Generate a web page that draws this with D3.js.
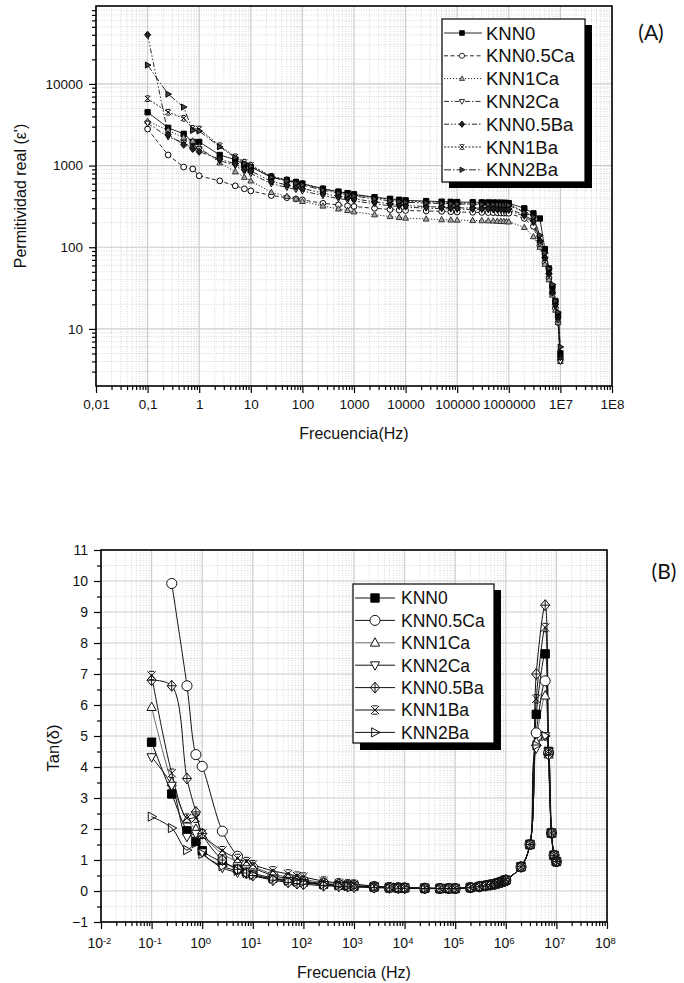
<!DOCTYPE html>
<html>
<head>
<meta charset="utf-8">
<script src="https://cdn.jsdelivr.net/npm/d3@7"></script>
<style>
body { margin: 0; background: #fff; }
text { font-family: "Liberation Sans", Arial, sans-serif; fill: #111; }
</style>
</head>
<body>
<div id="chart"></div>
<script>
// ---- data (A) permitividad real vs frecuencia ----
var seriesNames = ["KNN0", "KNN0.5Ca", "KNN1Ca", "KNN2Ca", "KNN0.5Ba", "KNN1Ba", "KNN2Ba"];

var freqA = [0.1, 0.25, 0.5, 0.75, 1, 2.5, 5, 7.5, 10, 25, 50, 75, 100, 250, 500, 750, 1000,
    2500, 5000, 7500, 1e4, 2.5e4, 5e4, 7.5e4, 1e5, 2e5, 3e5, 4e5, 5e5, 6e5, 7e5, 8e5, 9e5, 1e6,
    2e6, 3e6, 4e6, 5e6, 6e6, 7e6, 8e6, 9e6, 1e7];

var epsKNN0    = [4500, 2900, 2450, 1950, 1950, 1350, 1180, 1020, 960, 720, 660, 625, 600, 520, 480, 460, 445,
    410, 392, 382, 375, 368, 362, 360, 358, 356, 355, 354, 353, 352, 351, 350, 349, 347,
    300, 260, 225, 95, 55, 33, 22, 15, 5];
var epsKNN05Ca = [2800, 1350, 960, 910, 750, 650, 565, 520, 490, 430, 405, 390, 380, 345, 330, 322, 316,
    300, 290, 285, 282, 278, 275, 272, 270, 268, 267, 266, 265, 264, 263, 262, 262, 261,
    225, 180, 105, 65, 42, 27, 18, 12, 4.2];
var epsKNN1Ca  = [3500, 2700, 2200, 2000, 1700, 1080, 840, 720, 650, 470, 420, 390, 365, 320, 295, 282, 272,
    250, 238, 232, 228, 222, 218, 216, 215, 213, 212, 211, 210, 209, 208, 207, 206, 205,
    175, 135, 100, 62, 40, 26, 17, 12, 4];
var epsKNN2Ca  = [3300, 2250, 1900, 1650, 1600, 1150, 1000, 850, 800, 600, 540, 510, 490, 430, 395, 380, 370,
    340, 322, 315, 310, 302, 297, 294, 292, 290, 289, 288, 287, 286, 285, 284, 283, 282,
    240, 200, 110, 70, 45, 28, 19, 13, 4];
var epsKNN05Ba = [40000, 2400, 1800, 1600, 1480, 1200, 1050, 900, 860, 640, 580, 550, 525, 460, 420, 405, 392,
    360, 340, 332, 325, 315, 310, 306, 304, 302, 301, 300, 299, 298, 297, 296, 296, 295,
    250, 210, 120, 75, 48, 28, 20, 14, 4.5];
var epsKNN1Ba  = [6600, 4500, 3800, 2850, 2800, 1750, 1280, 1100, 1010, 740, 670, 630, 600, 520, 475, 455, 440,
    405, 385, 375, 368, 360, 354, 351, 349, 347, 346, 345, 344, 343, 342, 341, 340, 339,
    270, 240, 130, 80, 50, 30, 20, 14, 5];
var epsKNN2Ba  = [17000, 7500, 5200, 2700, 2650, 1700, 1250, 1060, 980, 720, 650, 610, 580, 500, 460, 440, 425,
    390, 370, 362, 355, 348, 343, 340, 338, 336, 335, 334, 333, 332, 331, 330, 329, 328,
    265, 235, 140, 85, 55, 35, 22, 16, 6];

var xTicksA = [0.01, 0.1, 1, 10, 100, 1000, 1e4, 1e5, 1e6, 1e7, 1e8];
var xLabelsA = ["0,01", "0,1", "1", "10", "100", "1000", "10000", "100000", "1000000", "1E7", "1E8"];
var yTicksA = [10, 100, 1000, 10000];
var yLabelsA = ["10", "100", "1000", "10000"];

// ---- data (B) tan delta vs frecuencia ----
var freqB = [0.1, 0.25, 0.5, 0.75, 1, 2.5, 5, 7.5, 10, 25, 50, 75, 100, 250, 500, 750, 1000,
    2500, 5000, 7500, 1e4, 2.5e4, 5e4, 7.5e4, 1e5, 2e5, 3e5, 4e5, 5e5, 6e5, 7e5, 8e5, 9e5, 1e6,
    2e6, 3e6, 4e6, 6e6, 7e6, 8e6, 9e6, 1e7];

var tanKNN0    = [4.8, 3.13, 1.94, 1.6, 1.3, 0.93, 0.72, 0.62, 0.57, 0.42, 0.35, 0.31, 0.29, 0.22, 0.19, 0.17, 0.16,
    0.13, 0.11, 0.1, 0.1, 0.09, 0.08, 0.08, 0.08, 0.11, 0.14, 0.17, 0.2, 0.22, 0.25, 0.28, 0.31, 0.35,
    0.78, 1.5, 5.7, 7.65, 4.5, 1.87, 1.15, 0.95];
var tanKNN05Ca = [null, 9.92, 6.62, 4.4, 4.02, 1.93, 1.12, 0.85, 0.75, 0.5, 0.4, 0.35, 0.32, 0.24, 0.2, 0.18, 0.17,
    0.13, 0.11, 0.1, 0.1, 0.09, 0.08, 0.08, 0.08, 0.11, 0.14, 0.17, 0.2, 0.22, 0.25, 0.28, 0.31, 0.35,
    0.78, 1.5, 5.1, 6.78, 4.45, 1.87, 1.15, 0.95];
var tanKNN1Ca  = [5.93, 3.5, 2.3, 2.0, 1.8, 1.2, 0.95, 0.85, 0.78, 0.55, 0.45, 0.4, 0.37, 0.28, 0.24, 0.21, 0.2,
    0.15, 0.12, 0.11, 0.1, 0.09, 0.08, 0.08, 0.08, 0.11, 0.14, 0.17, 0.2, 0.22, 0.25, 0.28, 0.31, 0.35,
    0.78, 1.5, 4.8, 6.3, 4.4, 1.87, 1.15, 0.95];
var tanKNN2Ca  = [4.32, 3.4, 1.75, 1.85, 1.25, 0.75, 0.6, 0.55, 0.5, 0.38, 0.32, 0.28, 0.26, 0.2, 0.17, 0.16, 0.15,
    0.12, 0.1, 0.1, 0.09, 0.08, 0.08, 0.08, 0.08, 0.11, 0.14, 0.17, 0.2, 0.22, 0.25, 0.28, 0.31, 0.35,
    0.78, 1.5, 4.6, 5.0, 4.5, 1.87, 1.15, 0.95];
var tanKNN05Ba = [6.8, 6.62, 3.63, 2.55, 1.85, 1.0, 0.7, 0.58, 0.5, 0.35, 0.28, 0.24, 0.22, 0.17, 0.15, 0.14, 0.13,
    0.11, 0.1, 0.09, 0.09, 0.08, 0.08, 0.08, 0.08, 0.11, 0.14, 0.17, 0.2, 0.22, 0.25, 0.28, 0.31, 0.35,
    0.78, 1.5, 7.0, 9.22, 4.4, 1.87, 1.15, 0.95];
var tanKNN1Ba  = [6.95, 3.8, 2.35, 2.35, 1.85, 1.3, 1.05, 0.95, 0.85, 0.65, 0.55, 0.48, 0.45, 0.32, 0.26, 0.23, 0.22,
    0.16, 0.13, 0.12, 0.11, 0.1, 0.09, 0.09, 0.09, 0.12, 0.15, 0.18, 0.21, 0.23, 0.26, 0.29, 0.32, 0.36,
    0.78, 1.5, 6.2, 8.5, 4.5, 1.87, 1.15, 0.95];
var tanKNN2Ba  = [2.4, 2.03, 1.32, 1.55, 1.2, 0.8, 0.65, 0.58, 0.52, 0.4, 0.33, 0.3, 0.28, 0.21, 0.18, 0.16, 0.15,
    0.12, 0.1, 0.1, 0.09, 0.08, 0.08, 0.08, 0.08, 0.11, 0.14, 0.17, 0.2, 0.22, 0.25, 0.28, 0.31, 0.35,
    0.78, 1.5, 4.7, 5.0, 4.5, 1.87, 1.15, 0.95];

var xTicksB = [0.01, 0.1, 1, 10, 100, 1000, 1e4, 1e5, 1e6, 1e7, 1e8];
var xExpB = ["-2", "-1", "0", "1", "2", "3", "4", "5", "6", "7", "8"];
var yTicksB = [-1, 0, 1, 2, 3, 4, 5, 6, 7, 8, 9, 10, 11];

(function () {
    var width = 684, height = 983;

    var svg = d3.select("#chart").append("svg")
        .attr("width", width)
        .attr("height", height);

    // plot boxes
    var boxA = {left: 96, right: 612, top: 6, bottom: 386};
    var boxB = {left: 101, right: 607, top: 550, bottom: 922};

    var xA = d3.scaleLog().domain([0.01, 1e8]).range([boxA.left, boxA.right]);
    var yA = d3.scaleLog().domain([2, 90000]).range([boxA.bottom, boxA.top]);
    var xB = d3.scaleLog().domain([0.01, 1e8]).range([boxB.left, boxB.right]);
    var yB = d3.scaleLinear().domain([-1, 11]).range([boxB.bottom, boxB.top]);

    // minor log ticks 2..9 per decade
    function logMinors(lo, hi) {
        var out = [];
        for (var e = Math.floor(Math.log10(lo)); e <= Math.ceil(Math.log10(hi)); e++) {
            for (var m = 2; m <= 9; m++) {
                var v = m * Math.pow(10, e);
                if (v > lo * 1.0001 && v < hi * 0.9999) out.push(v);
            }
        }
        return out;
    }

    function drawGrid(g, x, y, box, xMaj, xMin, yMaj, yMin) {
        var grid = g.append("g").attr("class", "grid");
        grid.selectAll(".gx-min").data(xMin).enter().append("line")
            .attr("x1", d => x(d)).attr("x2", d => x(d))
            .attr("y1", box.top).attr("y2", box.bottom)
            .attr("stroke", "#c4c4c4").attr("stroke-width", 0.7)
            .attr("stroke-dasharray", "1,1.5");
        grid.selectAll(".gy-min").data(yMin).enter().append("line")
            .attr("x1", box.left).attr("x2", box.right)
            .attr("y1", d => y(d)).attr("y2", d => y(d))
            .attr("stroke", "#c4c4c4").attr("stroke-width", 0.7)
            .attr("stroke-dasharray", "1,1.5");
        grid.selectAll(".gx-maj").data(xMaj).enter().append("line")
            .attr("x1", d => x(d)).attr("x2", d => x(d))
            .attr("y1", box.top).attr("y2", box.bottom)
            .attr("stroke", "#cccccc").attr("stroke-width", 1.2);
        grid.selectAll(".gy-maj").data(yMaj).enter().append("line")
            .attr("x1", box.left).attr("x2", box.right)
            .attr("y1", d => y(d)).attr("y2", d => y(d))
            .attr("stroke", "#cccccc").attr("stroke-width", 1.2);
    }

    // markers
    function symbolPath(type, size) {
        var s = Math.sqrt(size) / 2;
        switch (type) {
            case "square": return d3.symbol().type(d3.symbolSquare).size(size)();
            case "circle": return d3.symbol().type(d3.symbolCircle).size(size)();
            case "up": return "M0," + (-s * 1.2) + "L" + (s * 1.1) + "," + (s * 0.8) + "L" + (-s * 1.1) + "," + (s * 0.8) + "Z";
            case "down": return "M0," + (s * 1.2) + "L" + (s * 1.1) + "," + (-s * 0.8) + "L" + (-s * 1.1) + "," + (-s * 0.8) + "Z";
            case "right": return "M" + (s * 1.2) + ",0L" + (-s * 0.8) + "," + (s * 1.1) + "L" + (-s * 0.8) + "," + (-s * 1.1) + "Z";
            case "diamond": return "M0," + (-s * 1.3) + "L" + (s * 1.1) + ",0L0," + (s * 1.3) + "L" + (-s * 1.1) + ",0Z";
            case "diamondplus": return "M0," + (-s * 1.3) + "L" + (s * 1.1) + ",0L0," + (s * 1.3) + "L" + (-s * 1.1) + ",0Z" +
                "M0," + (-s * 1.3) + "L0," + (s * 1.3) + "M" + (-s * 1.1) + ",0L" + (s * 1.1) + ",0";
            case "xstar": return "M" + (-s) + "," + (-s) + "L" + s + "," + s + "M" + s + "," + (-s) + "L" + (-s) + "," + s +
                "M" + (-s * 0.6) + "," + (-s) + "L" + (s * 0.6) + "," + (-s) + "M" + (-s * 0.6) + "," + s + "L" + (s * 0.6) + "," + s +
                "M0," + (-s * 0.3) + "L0," + (s * 0.3);
        }
    }

    // ---------------- chart A ----------------
    var gA = svg.append("g");
    drawGrid(gA, xA, yA, boxA, xTicksA, logMinors(0.01, 1e8), yTicksA, logMinors(2, 90000));

    svg.append("clipPath").attr("id", "clipA").append("rect")
        .attr("x", boxA.left).attr("y", boxA.top)
        .attr("width", boxA.right - boxA.left).attr("height", boxA.bottom - boxA.top);

    var styleA = [
        {dash: null, sym: "square", size: 28, fill: "#000", stroke: "#000"},
        {dash: "4,2.5", sym: "circle", size: 26, fill: "#fff", stroke: "#000"},
        {dash: "1.2,1.8", sym: "up", size: 28, fill: "#aaa", stroke: "#333"},
        {dash: "5,2,1.5,2", sym: "down", size: 28, fill: "#fff", stroke: "#000"},
        {dash: "5,2,1.5,2,1.5,2", sym: "diamond", size: 30, fill: "#222", stroke: "#000"},
        {dash: "2,1.5", sym: "xstar", size: 32, fill: "none", stroke: "#000"},
        {dash: "7,2,1.5,2", sym: "right", size: 30, fill: "#444", stroke: "#000"}
    ];
    var dataA = [epsKNN0, epsKNN05Ca, epsKNN1Ca, epsKNN2Ca, epsKNN05Ba, epsKNN1Ba, epsKNN2Ba];

    var lineA = d3.line()
        .defined(d => d.v != null)
        .x(d => xA(d.f))
        .y(d => yA(d.v));

    var plotA = gA.append("g").attr("clip-path", "url(#clipA)");
    dataA.forEach(function (vals, i) {
        var pts = freqA.map(function (f, j) { return {f: f, v: vals[j]}; });
        plotA.append("path")
            .datum(pts)
            .attr("d", lineA)
            .attr("fill", "none")
            .attr("stroke", "#111")
            .attr("stroke-width", 0.9)
            .attr("stroke-dasharray", styleA[i].dash);
    });
    dataA.forEach(function (vals, i) {
        var st = styleA[i];
        var pts = freqA.map(function (f, j) { return {f: f, v: vals[j]}; }).filter(d => d.v != null);
        plotA.selectAll(".mA" + i).data(pts).enter().append("path")
            .attr("transform", d => "translate(" + xA(d.f) + "," + yA(d.v) + ")")
            .attr("d", symbolPath(st.sym, st.size))
            .attr("fill", st.fill)
            .attr("stroke", st.stroke)
            .attr("stroke-width", 1);
    });

    // axes A
    var axA = gA.append("g").attr("transform", "translate(0," + boxA.bottom + ")")
        .call(d3.axisBottom(xA).tickValues(logMinors(0.01, 1e8)).tickSize(4).tickFormat(""));
    axA.select(".domain").remove();
    var axA2 = gA.append("g").attr("transform", "translate(0," + boxA.bottom + ")")
        .call(d3.axisBottom(xA).tickValues(xTicksA).tickSize(7).tickPadding(6)
            .tickFormat((d, i) => xLabelsA[i]));
    axA2.select(".domain").remove();
    axA2.selectAll("text").attr("font-size", 13.5).attr("font-family", "Liberation Sans, Arial, sans-serif").attr("fill", "#111");

    var ayA = gA.append("g").attr("transform", "translate(" + boxA.left + ",0)")
        .call(d3.axisLeft(yA).tickValues(logMinors(2, 90000)).tickSize(4).tickFormat(""));
    ayA.select(".domain").remove();
    var ayA2 = gA.append("g").attr("transform", "translate(" + boxA.left + ",0)")
        .call(d3.axisLeft(yA).tickValues(yTicksA).tickSize(7).tickPadding(6)
            .tickFormat((d, i) => yLabelsA[i]));
    ayA2.select(".domain").remove();
    ayA2.selectAll("text").attr("font-size", 13.5).attr("font-family", "Liberation Sans, Arial, sans-serif").attr("fill", "#111");
    gA.selectAll(".tick line").attr("stroke", "#000").attr("stroke-width", 1.2);

    gA.append("rect")
        .attr("x", boxA.left).attr("y", boxA.top)
        .attr("width", boxA.right - boxA.left).attr("height", boxA.bottom - boxA.top)
        .attr("fill", "none").attr("stroke", "#000").attr("stroke-width", 1.6);

    gA.append("text")
        .attr("x", (boxA.left + boxA.right) / 2).attr("y", 439)
        .attr("text-anchor", "middle").attr("font-size", 16)
        .text("Frecuencia(Hz)");
    gA.append("text")
        .attr("transform", "translate(26," + ((boxA.top + boxA.bottom) / 2) + ") rotate(-90)")
        .attr("text-anchor", "middle").attr("font-size", 16)
        .text("Permitividad real (\u03b5')");
    svg.append("text")
        .attr("x", 651).attr("y", 40)
        .attr("text-anchor", "middle").attr("font-size", 21)
        .style("font-family", "Lato, 'Open Sans', sans-serif")
        .text("(A)");

    // legend A
    var legA = gA.append("g");
    legA.append("rect").attr("x", 449).attr("y", 25).attr("width", 143).attr("height", 163).attr("fill", "#000");
    legA.append("rect").attr("x", 442).attr("y", 19).attr("width", 143).attr("height", 163)
        .attr("fill", "#fff").attr("stroke", "#000").attr("stroke-width", 1.2);
    seriesNames.forEach(function (name, i) {
        var yy = 33 + i * 22.8;
        var st = styleA[i];
        legA.append("line").attr("x1", 444).attr("x2", 482).attr("y1", yy).attr("y2", yy)
            .attr("stroke", "#111").attr("stroke-width", 0.9).attr("stroke-dasharray", st.dash);
        legA.append("path").attr("transform", "translate(462," + yy + ")")
            .attr("d", symbolPath(st.sym, st.size * 0.8))
            .attr("fill", st.fill).attr("stroke", st.stroke).attr("stroke-width", 0.8);
        legA.append("text").attr("x", 486).attr("y", yy).attr("dy", "0.36em")
            .attr("font-size", 18.5).text(name);
    });

    // ---------------- chart B ----------------
    var gB = svg.append("g");
    var yMinB = d3.range(-0.5, 11, 1);
    drawGrid(gB, xB, yB, boxB, xTicksB, logMinors(0.01, 1e8), yTicksB, yMinB);

    svg.append("clipPath").attr("id", "clipB").append("rect")
        .attr("x", boxB.left).attr("y", boxB.top)
        .attr("width", boxB.right - boxB.left).attr("height", boxB.bottom - boxB.top);

    var styleB = [
        {sym: "square", size: 70, fill: "#000", stroke: "#000", line: "#111"},
        {sym: "circle", size: 80, fill: "#fff", stroke: "#111", line: "#111"},
        {sym: "up", size: 70, fill: "#fff", stroke: "#111", line: "#666"},
        {sym: "down", size: 70, fill: "#fff", stroke: "#111", line: "#111"},
        {sym: "diamondplus", size: 70, fill: "#fff", stroke: "#111", line: "#111"},
        {sym: "xstar", size: 70, fill: "none", stroke: "#111", line: "#111"},
        {sym: "right", size: 70, fill: "none", stroke: "#111", line: "#111"}
    ];
    var dataB = [tanKNN0, tanKNN05Ca, tanKNN1Ca, tanKNN2Ca, tanKNN05Ba, tanKNN1Ba, tanKNN2Ba];

    var lineB = d3.line()
        .defined(d => d.v != null)
        .curve(d3.curveCatmullRom.alpha(0.5))
        .x(d => xB(d.f))
        .y(d => yB(d.v));

    var plotB = gB.append("g").attr("clip-path", "url(#clipB)");
    dataB.forEach(function (vals, i) {
        var pts = freqB.map(function (f, j) { return {f: f, v: vals[j]}; }).filter(d => d.v != null);
        plotB.append("path")
            .datum(pts)
            .attr("d", lineB)
            .attr("fill", "none")
            .attr("stroke", styleB[i].line)
            .attr("stroke-width", 1);
    });
    dataB.forEach(function (vals, i) {
        var st = styleB[i];
        var pts = freqB.map(function (f, j) { return {f: f, v: vals[j]}; }).filter(d => d.v != null);
        plotB.selectAll(".mB" + i).data(pts).enter().append("path")
            .attr("transform", d => "translate(" + xB(d.f) + "," + yB(d.v) + ")")
            .attr("d", symbolPath(st.sym, st.size))
            .attr("fill", st.fill)
            .attr("stroke", st.stroke)
            .attr("stroke-width", 1);
    });

    // axes B
    var axB = gB.append("g").attr("transform", "translate(0," + boxB.bottom + ")")
        .call(d3.axisBottom(xB).tickValues(logMinors(0.01, 1e8)).tickSize(4).tickFormat(""));
    axB.select(".domain").remove();
    var axB2 = gB.append("g").attr("transform", "translate(0," + boxB.bottom + ")")
        .call(d3.axisBottom(xB).tickValues(xTicksB).tickSize(7).tickPadding(9).tickFormat(""));
    axB2.select(".domain").remove();
    axB2.selectAll(".tick text").each(function (d, i) {
        var t = d3.select(this)
            .attr("font-size", 14).attr("fill", "#111")
            .attr("font-family", "Liberation Sans, Arial, sans-serif")
            .attr("dx", "-0.15em");
        t.text("10");
        t.append("tspan").attr("dy", "-0.45em").attr("font-size", 9.5).text(xExpB[i]);
    });

    var ayB = gB.append("g").attr("transform", "translate(" + boxB.left + ",0)")
        .call(d3.axisLeft(yB).tickValues(yMinB).tickSize(4).tickFormat(""));
    ayB.select(".domain").remove();
    var ayB2 = gB.append("g").attr("transform", "translate(" + boxB.left + ",0)")
        .call(d3.axisLeft(yB).tickValues(yTicksB).tickSize(7).tickPadding(6).tickFormat(d3.format("d")));
    ayB2.select(".domain").remove();
    ayB2.selectAll("text").attr("font-size", 14).attr("font-family", "Liberation Sans, Arial, sans-serif").attr("fill", "#111");
    gB.selectAll(".tick line").attr("stroke", "#000").attr("stroke-width", 1.2);

    gB.append("rect")
        .attr("x", boxB.left).attr("y", boxB.top)
        .attr("width", boxB.right - boxB.left).attr("height", boxB.bottom - boxB.top)
        .attr("fill", "none").attr("stroke", "#000").attr("stroke-width", 1.6);

    gB.append("text")
        .attr("x", (boxB.left + boxB.right) / 2).attr("y", 978)
        .attr("text-anchor", "middle").attr("font-size", 16)
        .text("Frecuencia (Hz)");
    gB.append("text")
        .attr("transform", "translate(59,748) rotate(-90)")
        .attr("text-anchor", "middle").attr("font-size", 16.5)
        .text("Tan(\u03b4)");
    svg.append("text")
        .attr("x", 664).attr("y", 579)
        .attr("text-anchor", "middle").attr("font-size", 21)
        .style("font-family", "Lato, 'Open Sans', sans-serif")
        .text("(B)");

    // legend B
    var legB = gB.append("g");
    legB.append("rect").attr("x", 360).attr("y", 590).attr("width", 141).attr("height", 160).attr("fill", "#000");
    legB.append("rect").attr("x", 353).attr("y", 584).attr("width", 141).attr("height", 159)
        .attr("fill", "#fff").attr("stroke", "#000").attr("stroke-width", 1.2);
    seriesNames.forEach(function (name, i) {
        var yy = 598 + i * 22.4;
        var st = styleB[i];
        legB.append("line").attr("x1", 355).attr("x2", 395).attr("y1", yy).attr("y2", yy)
            .attr("stroke", st.line).attr("stroke-width", 1);
        legB.append("path").attr("transform", "translate(375," + yy + ")")
            .attr("d", symbolPath(st.sym, st.size))
            .attr("fill", st.fill).attr("stroke", st.stroke).attr("stroke-width", 1);
        legB.append("text").attr("x", 401).attr("y", yy).attr("dy", "0.36em")
            .attr("font-size", 17.5).text(name);
    });
})();
</script>
</body>
</html>
